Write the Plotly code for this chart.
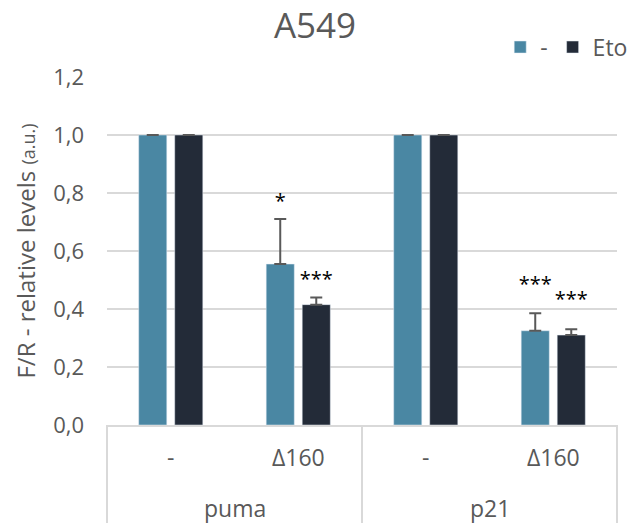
import plotly.graph_objects as go

# Reporter ratio (F/R) relative to control, A549 cells
genes = ["puma", "puma", "p21", "p21"]
constructs = ["-", "Δ160", "-", "Δ160"]

ctrl_vals = [1.0, 0.555, 1.0, 0.325]
ctrl_err = [0.0, 0.155, 0.0, 0.06]
eto_vals = [1.0, 0.415, 1.0, 0.31]
eto_err = [0.0, 0.025, 0.0, 0.02]

# significance marks and the height they sit at
ctrl_stars = ["", "*", "", "***"]
ctrl_star_y = [None, 0.765, None, 0.48]
eto_stars = ["", "***", "", "***"]
eto_star_y = [None, 0.497, None, 0.428]

BLUE = "#4A87A3"
DARK = "#232B38"
GREY = "#595959"
GRID = "#D9D9D9"
FONT = "Open Sans"

x = [genes, constructs]
n = len(constructs)

fig = go.Figure()
fig.add_trace(go.Bar(
    x=x, y=ctrl_vals, name="-", marker_color=BLUE, offsetgroup="a",
    error_y=dict(type="data", array=ctrl_err, arrayminus=[0] * n, symmetric=False,
                 color=GREY, thickness=2, width=6),
))
fig.add_trace(go.Bar(
    x=x, y=eto_vals, name="Eto", marker_color=DARK, offsetgroup="b",
    error_y=dict(type="data", array=eto_err, arrayminus=[0] * n, symmetric=False,
                 color=GREY, thickness=2, width=6),
))
fig.add_trace(go.Scatter(
    x=x, y=ctrl_star_y, text=ctrl_stars, mode="text", offsetgroup="a",
    textfont=dict(family=FONT, size=20, color="#000000"),
    showlegend=False, hoverinfo="skip",
))
fig.add_trace(go.Scatter(
    x=x, y=eto_star_y, text=eto_stars, mode="text", offsetgroup="b",
    textfont=dict(family=FONT, size=20, color="#000000"),
    showlegend=False, hoverinfo="skip",
))

# two-level category labels below the axis, boxed by divider lines
BOTTOM = -98 / 348
annotations = []
for i, c in enumerate(constructs):
    annotations.append(dict(
        x=(i + 0.5) / n, y=-32 / 348, xref="paper", yref="paper", text=c,
        showarrow=False, xanchor="center", yanchor="middle",
        font=dict(family=FONT, size=23, color=GREY),
    ))
groups = list(dict.fromkeys(genes))
for g in groups:
    idx = [i for i, v in enumerate(genes) if v == g]
    annotations.append(dict(
        x=(idx[0] + idx[-1] + 1) / 2 / n, y=-83 / 348, xref="paper", yref="paper",
        text=g, showarrow=False, xanchor="center", yanchor="middle",
        font=dict(family=FONT, size=23, color=GREY),
    ))

shapes = []
bounds = [0] + [i + 1 for i in range(n - 1) if genes[i] != genes[i + 1]] + [n]
for b in bounds:
    shapes.append(dict(type="line", xref="paper", yref="paper",
                       x0=b / n, x1=b / n, y0=0, y1=BOTTOM,
                       line=dict(color=GRID, width=2)))

fig.update_layout(
    width=630, height=523,
    margin=dict(l=107, r=13, t=77, b=98, autoexpand=False),
    paper_bgcolor="white", plot_bgcolor="white",
    font=dict(family=FONT, color=GREY, size=20),
    title=dict(text="A549", x=0.5, xanchor="center", y=0.975, yanchor="top",
               font=dict(family=FONT, size=35, color=GREY)),
    barmode="group", bargap=0.435, bargroupgap=0.22,
    scattermode="group", scattergap=0.435,
    legend=dict(orientation="h", x=0.771, xanchor="left", y=1.086, yanchor="middle",
                font=dict(family=FONT, size=23, color=GREY),
                itemwidth=30, traceorder="normal"),
    showlegend=True,
    annotations=annotations, shapes=shapes,
    separators=",.",
)
fig.update_yaxes(
    range=[0, 1.2], dtick=0.2, tickformat=".1f",
    showgrid=True, gridcolor=GRID, gridwidth=2, zeroline=False,
    showline=False, ticks="", ticklabelstandoff=22,
    tickfont=dict(family=FONT, size=22, color=GREY),
    title=dict(text="F/R - relative levels <span style='font-size:18px'>(a.u.)</span>",
               font=dict(family=FONT, size=24, color=GREY), standoff=10),
)
fig.update_xaxes(
    type="multicategory", showline=True, linecolor=GRID, linewidth=2,
    showdividers=False, showticklabels=False, ticks="",
)

fig.write_html("out.html")
